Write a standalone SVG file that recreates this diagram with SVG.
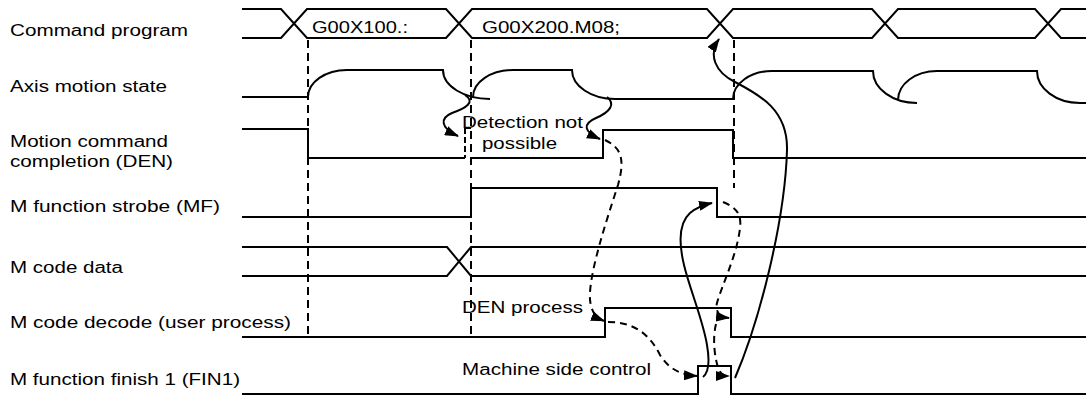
<svg xmlns="http://www.w3.org/2000/svg" width="1086" height="396" viewBox="0 0 1086 396">
<style>
.sig{fill:none;stroke:#000;stroke-width:2;stroke-linejoin:miter}
.dash{fill:none;stroke:#000;stroke-width:2;stroke-dasharray:8,5}
.arr{fill:none;stroke:#000;stroke-width:2}
.arrd{fill:none;stroke:#000;stroke-width:2;stroke-dasharray:7,5}
text{font-family:"Liberation Sans",Arial,sans-serif;font-size:16px;fill:#000}
</style>
<defs>
<marker id="ah" viewBox="0 0 14 10" refX="13" refY="5" markerWidth="14" markerHeight="10" markerUnits="userSpaceOnUse" orient="auto">
<path d="M0,0 L14,5 L0,10 z" fill="#000"/>
</marker>
</defs>
<rect width="1086" height="396" fill="#fff"/>

<g id="labels">
<text x="10" y="36" textLength="178" lengthAdjust="spacingAndGlyphs">Command program</text>
<text x="10" y="92" textLength="157" lengthAdjust="spacingAndGlyphs">Axis motion state</text>
<text x="10" y="147" textLength="158" lengthAdjust="spacingAndGlyphs">Motion command</text>
<text x="10" y="167" textLength="163" lengthAdjust="spacingAndGlyphs">completion (DEN)</text>
<text x="10" y="212" textLength="210" lengthAdjust="spacingAndGlyphs">M function strobe (MF)</text>
<text x="10" y="273" textLength="113" lengthAdjust="spacingAndGlyphs">M code data</text>
<text x="10" y="328" textLength="281" lengthAdjust="spacingAndGlyphs">M code decode (user process)</text>
<text x="10" y="385" textLength="230" lengthAdjust="spacingAndGlyphs">M function finish 1 (FIN1)</text>
</g>

<g id="command-program">
<path class="sig" d="M242,9 H281 L307,38 H446 L472,9 H707 L733,38 H872 L898,9 H1035 L1061,38 H1086"/>
<path class="sig" d="M242,38 H281 L307,9 H446 L472,38 H707 L733,9 H872 L898,38 H1035 L1061,9 H1086"/>
<text x="312" y="33" textLength="96" lengthAdjust="spacingAndGlyphs">G00X100.:</text>
<text x="482" y="33" textLength="138" lengthAdjust="spacingAndGlyphs">G00X200.M08;</text>
</g>

<g id="axis-motion-state">
<path class="sig" d="M242,97 H308 A39,27 0 0 1 347,70 H443 A47,29 0 0 0 490,99"/>
<path class="sig" d="M473,97 A40,27 0 0 1 513,70 H572 A43,29 0 0 0 615,99 H733 A39,28 0 0 1 772,71 H873 A44,32 0 0 0 917,103"/>
<path class="sig" d="M898,100 A39,29 0 0 1 937,71 H1037 A43,32 0 0 0 1080,103 H1086"/>
</g>

<g id="den">
<path class="sig" d="M242,129 H308 V158 H465"/>
<path class="sig" d="M471,158 H603 V130 H733 V158 H1086"/>
<path class="sig" d="M465,128 H471"/>
<path class="dash" style="stroke-dasharray:6,3" d="M465,128 V158"/>
<text x="462" y="128" textLength="121" lengthAdjust="spacingAndGlyphs">Detection not</text>
<text x="482" y="149" textLength="75" lengthAdjust="spacingAndGlyphs">possible</text>
</g>

<g id="mf">
<path class="sig" d="M242,217 H471 V188 H717 V217 H1086"/>
</g>

<g id="m-code-data">
<path class="sig" d="M242,247 H447 L471,276 H1086"/>
<path class="sig" d="M242,276 H447 L471,247 H1086"/>
</g>

<g id="m-code-decode">
<path class="sig" d="M242,337 H605 V308 H731 V337 H1086"/>
<text x="462" y="313" textLength="121" lengthAdjust="spacingAndGlyphs">DEN process</text>
</g>

<g id="fin1">
<path class="sig" d="M242,394 H698 V366 H731 V394 H1086"/>
<text x="462" y="375" textLength="189" lengthAdjust="spacingAndGlyphs">Machine side control</text>
</g>

<g id="connectors">
<path class="dash" d="M308,40 V337"/>
<path class="dash" d="M471,40 V335"/>
<path class="dash" d="M734,40 V188"/>
<path class="arr" marker-end="url(#ah)" d="M465,95 C476,102 466,108 452,113 C440,118 440,128 458,136"/>
<path class="arr" marker-end="url(#ah)" d="M607,97 C616,104 610,112 596,118 C582,124 584,132 600,139"/>
<path class="arrd" marker-end="url(#ah)" d="M605,140 C622,148 625,160 618,185 C605,225 592,265 590,292 C589,308 594,317 604,321"/>
<path class="arrd" marker-end="url(#ah)" d="M608,322 C635,322 650,335 660,355 C668,368 680,375 697,376"/>
<path class="arr" marker-end="url(#ah)" d="M703,377 C709,372 710,362 707,345 C703,320 690,290 684,265 C678,240 680,222 690,213 C697,207 703,205 712,203"/>
<path class="arrd" marker-end="url(#ah)" d="M723,202 C735,207 742,213 740,228 C737,255 722,285 717,303 C715,311 719,317 729,318"/>
<path class="arrd" marker-end="url(#ah)" d="M716,324 C712,340 715,360 719,370 C721,374 724,376 729,376"/>
<path class="arr" marker-end="url(#ah)" d="M735,378 C760,320 785,220 787,150 C788,110 760,95 735,82 C715,72 708,55 719,39"/>
</g>
</svg>
